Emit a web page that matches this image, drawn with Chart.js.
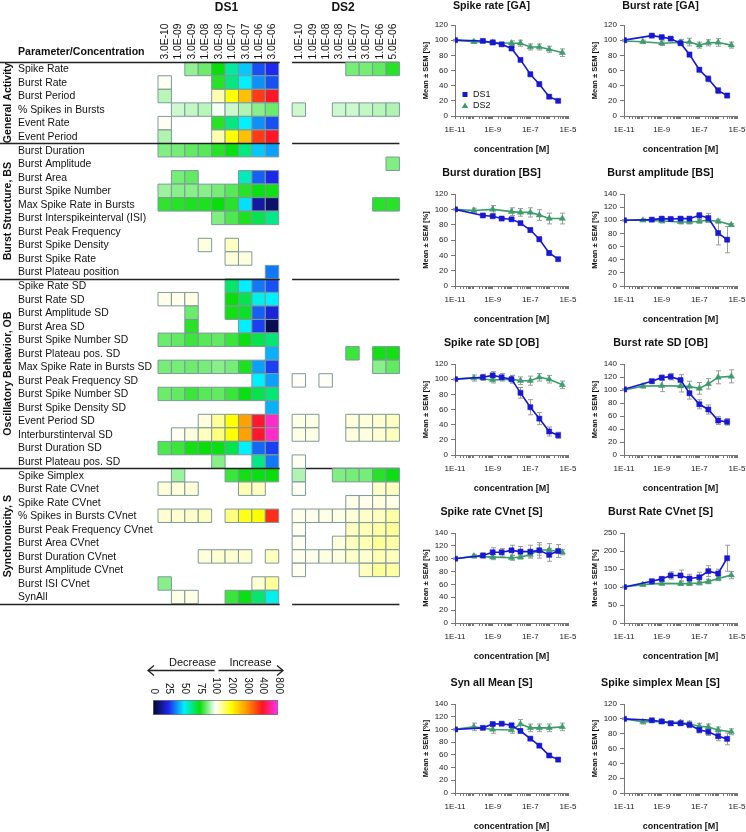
<!DOCTYPE html>
<html>
<head>
<meta charset="utf-8">
<script src="https://cdn.jsdelivr.net/npm/chart.js@4.4.1/dist/chart.umd.min.js"></script>
<style>
html, body { margin: 0; padding: 0; background: #fff; }
#fig { position: relative; width: 746px; height: 832px; overflow: hidden; background: #fff; }
#fig canvas { position: absolute; }
</style>
</head>
<body>
<div id="fig"></div>
<script>
// ---- heatmap data ----
const params = [
  "Spike Rate", "Burst Rate", "Burst Period", "% Spikes in Bursts", "Event Rate", "Event Period",
  "Burst Duration", "Burst Amplitude", "Burst Area", "Burst Spike Number", "Max Spike Rate in Bursts",
  "Burst Interspikeinterval (ISI)", "Burst Peak Frequency", "Burst Spike Density", "Burst Spike Rate",
  "Burst Plateau position",
  "Spike Rate SD", "Burst Rate SD", "Burst Amplitude SD", "Burst Area SD", "Burst Spike Number SD",
  "Burst Plateau pos. SD", "Max Spike Rate in Bursts SD", "Burst Peak Frequency SD", "Burst Spike Number SD",
  "Burst Spike Density SD", "Event Period SD", "Interburstinterval SD", "Burst Duration SD", "Burst Plateau pos. SD",
  "Spike Simplex", "Burst Rate CVnet", "Spike Rate CVnet", "% Spikes in Bursts CVnet", "Burst Peak Frequency CVnet",
  "Burst Area CVnet", "Burst Duration CVnet", "Burst Amplitude CVnet", "Burst ISI CVnet", "SynAll"
];
const sectionNames = ["General Activity", "Burst Structure, BS", "Oscillatory Behavior, OB", "Synchronicity, S"];
const sectionRows = [6, 10, 14, 10];
const ds1Conc = ["3.0E-10", "1.0E-09", "3.0E-09", "1.0E-08", "3.0E-08", "1.0E-07", "3.0E-07", "1.0E-06", "3.0E-06"];
const ds2Conc = ["1.0E-10", "1.0E-09", "1.0E-08", "3.0E-08", "1.0E-07", "3.0E-07", "1.0E-06", "5.0E-06"];
const _ = null;
// percent of control, null = not significant
const ds1Cells = [
  [_, _, 89, 85, 75, 60, 45, 30, 25],
  [105, _, _, _, 78, 63, 50, 38, 30],
  [93, _, _, _, 130, 200, 260, 370, 420],
  [_, 95, 94, 93, 99, 95, 92, 88, 85],
  [105, _, _, _, 78, 63, 50, 38, 30],
  [92, _, _, _, 130, 200, 260, 370, 420],
  [87, 86, 84, 83, 78, 74, 63, 45, 40],
  [_, _, _, _, _, _, _, _, _],
  [_, 86, 84, _, _, _, 57, 32, 24],
  [90, 88, 88, 88, 86, 83, 78, 74, 76],
  [79, 78, 77, 77, 75, 78, 48, 15, 8],
  [_, _, _, _, 87, 82, 77, 68, 62],
  [_, _, _, _, _, _, _, _, _],
  [_, _, _, 112, _, 125, _, _, _],
  [_, _, _, _, _, 115, 112, _, _],
  [_, _, _, _, _, _, _, _, 35],
  [_, _, _, _, _, 65, 50, 35, 30],
  [108, 108, 110, _, _, 75, 68, 52, 50],
  [_, _, 85, _, _, 76, 72, 32, 22],
  [_, _, 78, _, _, _, 50, 28, 5],
  [85, 84, 80, 83, 84, 80, 74, 68, 64],
  [_, _, _, _, _, _, _, _, 42],
  [86, 86, 85, 86, 88, 86, 77, 40, 28],
  [_, _, _, _, _, _, _, 50, 40],
  [85, 84, 80, 83, 84, 80, 74, 68, 64],
  [_, _, _, _, _, _, _, _, 42],
  [_, _, _, 112, 140, 200, 290, 430, 700],
  [_, 105, 112, 125, 150, 200, 290, 430, 700],
  [82, 80, 76, 75, 74, 68, 50, 33, 28],
  [_, _, _, _, 88, _, _, 62, 35],
  [_, 90, _, _, _, 80, 76, 74, 75],
  [115, 115, 115, _, _, _, 130, 125, _],
  [_, _, _, _, _, _, _, _, _],
  [118, 118, 120, 125, _, 150, 190, 200, 380],
  [_, _, _, _, _, _, _, _, _],
  [_, _, _, _, _, _, _, _, _],
  [_, _, _, 115, 118, 118, 118, _, 125],
  [_, _, _, _, _, _, _, _, _],
  [88, _, _, _, _, _, _, 118, 140],
  [_, 110, 110, _, _, 80, 74, 65, 52]
];
const ds2Cells = [
  [_, _, _, _, 86, 86, 84, 78],
  [_, _, _, _, _, _, _, _],
  [_, _, _, _, _, _, _, _],
  [95, _, _, 95, 95, 94, 93, 92],
  [_, _, _, _, _, _, _, _],
  [_, _, _, _, _, _, _, _],
  [_, _, _, _, _, _, _, _],
  [_, _, _, _, _, _, _, 87],
  [_, _, _, _, _, _, _, _],
  [_, _, _, _, _, _, _, _],
  [_, _, _, _, _, _, 78, 78],
  [_, _, _, _, _, _, _, _],
  [_, _, _, _, _, _, _, _],
  [_, _, _, _, _, _, _, _],
  [_, _, _, _, _, _, _, _],
  [_, _, _, _, _, _, _, _],
  [_, _, _, _, _, _, _, _],
  [_, _, _, _, _, _, _, _],
  [_, _, _, _, _, _, _, _],
  [_, _, _, _, _, _, _, _],
  [_, _, _, _, _, _, _, _],
  [_, _, _, _, 80, _, 76, 76],
  [_, _, _, _, _, _, 88, 84],
  [103, _, 103, _, _, _, _, _],
  [_, _, _, _, _, _, _, _],
  [_, _, _, _, _, _, _, _],
  [110, 110, _, _, 115, 115, 118, 125],
  [110, 110, _, _, 112, 112, 118, 125],
  [_, _, _, _, _, _, _, _],
  [105, _, _, _, _, _, _, _],
  [92, _, _, 87, 86, 86, 78, 74],
  [105, _, _, _, _, _, 120, 125],
  [_, _, _, _, 108, 108, 112, 110],
  [108, 108, 110, 110, 115, 120, 125, 135],
  [105, _, _, _, 125, 128, 135, 140],
  [105, _, _, 115, 125, 130, 140, 135],
  [108, 108, 110, 112, 120, 118, 130, 125],
  [105, _, _, _, _, 125, 140, 135],
  [_, _, _, _, _, _, _, _],
  [_, _, _, _, _, _, _, _]
];
const colorStops = [0, 25, 50, 75, 100, 200, 300, 400, 800];
const stopColors = [[5, 5, 40], [30, 40, 240], [0, 240, 255], [10, 222, 10], [255, 255, 255],
  [255, 255, 0], [255, 150, 0], [255, 20, 30], [255, 50, 255]];

// ---- concentration-response data ----
const concDS1 = [1e-11, 3e-10, 1e-9, 3e-9, 1e-8, 3e-8, 1e-7, 3e-7, 1e-6, 3e-6];
const concDS2 = [1e-11, 1e-10, 1e-9, 1e-8, 3e-8, 1e-7, 3e-7, 1e-6, 5e-6];

const spikeRateDS1 = [100, 99, 97, 94.5, 89, 74, 55, 42, 25.5, 20];
const spikeRateDS1Sem = [1, 1, 1, 1, 1.5, 2, 3, 3, 2.5, 2];
const spikeRateDS2 = [100, 98, 97, 96, 96, 91, 91, 88, 83.5];
const spikeRateDS2Sem = [1, 2, 3, 3, 4, 4, 4, 4, 5];

const burstRateDS1 = [100, 106, 104, 102, 96, 81, 61, 49, 33.5, 27];
const burstRateDS1Sem = [1, 1, 1, 1.5, 2, 3, 3, 4, 4, 3];
const burstRateDS2 = [99, 98, 96, 97, 97.5, 93.5, 96.5, 97, 93.5];
const burstRateDS2Sem = [1, 2, 3, 4, 5, 4, 4, 5, 4];

const burstDurDS1 = [100, 92, 91, 88, 87, 82, 73, 61, 43, 35];
const burstDurDS1Sem = [1, 1.5, 1.5, 1.5, 1.5, 2, 3, 3, 3, 2];
const burstDurDS2 = [100, 98.5, 100, 97, 96, 96, 92.5, 88, 88];
const burstDurDS2Sem = [1, 3, 5, 5, 5, 6, 7, 7, 7];

const burstAmpDS1 = [100, 101, 102.5, 102, 102.5, 102.5, 107.5, 103.5, 80.5, 70.5];
const burstAmpDS1Sem = [1, 1, 2, 2, 2, 2, 4, 7, 18, 20];
const burstAmpDS2 = [100, 100, 99, 97.5, 97.5, 98.5, 100, 98.5, 93];
const burstAmpDS2Sem = [1, 2, 3, 3, 3, 3, 3, 3, 2];

const spikeRateSdDS1 = [100, 102.5, 105, 102.5, 100, 82, 63, 48, 31, 26];
const spikeRateSdDS1Sem = [1, 4, 5, 5, 5, 7, 10, 8, 6, 4];
const spikeRateSdDS2 = [100, 101.5, 99, 100, 98, 98, 102.5, 100, 92.5];
const spikeRateSdDS2Sem = [1, 4, 4, 5, 5, 6, 5, 5, 5];

const burstRateSdDS1 = [101, 113.5, 119, 120.5, 115.5, 95, 78, 70, 53, 51];
const burstRateSdDS1Sem = [1, 3, 4, 5, 8, 9, 7, 7, 6, 5];
const burstRateSdDS2 = [100, 106, 106.5, 106, 105.5, 102.5, 109.5, 119.5, 121];
const burstRateSdDS2Sem = [1, 3, 9, 9, 8, 9, 8, 10, 10];

const spikeCvDS1 = [100, 105, 110, 110, 113, 111, 111, 113, 106, 112];
const spikeCvDS1Sem = [1, 4, 7, 6, 8, 8, 10, 12, 10, 10];
const spikeCvDS2 = [100, 104, 102.5, 101.5, 102.5, 106.5, 113.5, 113.5, 110];
const spikeCvDS2Sem = [1, 3, 4, 4, 3, 4, 8, 10, 4];

const burstCvDS1 = [100, 116, 122.5, 132, 132, 123.5, 127, 144, 137.5, 180];
const burstCvDS1Sem = [2, 4, 6, 10, 15, 12, 14, 15, 12, 36];
const burstCvDS2 = [100, 106.5, 110, 109.5, 109.5, 111, 115, 123.5, 133];
const burstCvDS2Sem = [2, 4, 5, 5, 5, 5, 6, 6, 10];

const synAllDS1 = [100, 102.5, 108.5, 109, 106.5, 97.5, 85.5, 74.5, 59, 52.5];
const synAllDS1Sem = [1, 2, 2, 2, 2, 2, 2, 2, 2, 2];
const synAllDS2 = [100, 104, 100, 99, 108.5, 102.5, 102.5, 102.5, 104];
const synAllDS2Sem = [1, 6, 6, 5, 7, 6, 6, 6, 6];

const simplexDS1 = [100, 98, 96.5, 94, 94, 92, 85, 82.5, 76.5, 73];
const simplexDS1Sem = [1, 1, 2, 3, 3, 4, 4, 5, 6, 8];
const simplexDS2 = [100, 96, 96, 95, 93, 90, 89, 85, 82.5];
const simplexDS2Sem = [1, 3, 2, 3, 4, 4, 4, 4, 4];

const panels = [
  { title: "Spike rate [GA]", yMax: 120, step: 20, a: spikeRateDS1, ae: spikeRateDS1Sem, b: spikeRateDS2, be: spikeRateDS2Sem },
  { title: "Burst rate [GA]", yMax: 120, step: 20, a: burstRateDS1, ae: burstRateDS1Sem, b: burstRateDS2, be: burstRateDS2Sem },
  { title: "Burst duration [BS]", yMax: 120, step: 20, a: burstDurDS1, ae: burstDurDS1Sem, b: burstDurDS2, be: burstDurDS2Sem },
  { title: "Burst amplitude [BS]", yMax: 140, step: 20, a: burstAmpDS1, ae: burstAmpDS1Sem, b: burstAmpDS2, be: burstAmpDS2Sem },
  { title: "Spike rate SD [OB]", yMax: 120, step: 20, a: spikeRateSdDS1, ae: spikeRateSdDS1Sem, b: spikeRateSdDS2, be: spikeRateSdDS2Sem },
  { title: "Burst rate SD [OB]", yMax: 140, step: 20, a: burstRateSdDS1, ae: burstRateSdDS1Sem, b: burstRateSdDS2, be: burstRateSdDS2Sem },
  { title: "Spike rate CVnet [S]", yMax: 140, step: 20, a: spikeCvDS1, ae: spikeCvDS1Sem, b: spikeCvDS2, be: spikeCvDS2Sem },
  { title: "Burst Rate CVnet [S]", yMax: 250, step: 50, a: burstCvDS1, ae: burstCvDS1Sem, b: burstCvDS2, be: burstCvDS2Sem },
  { title: "Syn all Mean [S]", yMax: 140, step: 20, a: synAllDS1, ae: synAllDS1Sem, b: synAllDS2, be: synAllDS2Sem },
  { title: "Spike simplex Mean [S]", yMax: 120, step: 20, a: simplexDS1, ae: simplexDS1Sem, b: simplexDS2, be: simplexDS2Sem }
];

// ---- setup ----
const FONT = "'Liberation Sans', Arial, Helvetica, sans-serif";
Chart.defaults.font.family = FONT;
Chart.defaults.color = "#111";
const BLUE = "#1818d2";
const GREEN = "#3c9c6c";
const fig = document.getElementById("fig");

function addCanvas(left, top, w, h) {
  const c = document.createElement("canvas");
  c.width = w; c.height = h;
  c.style.left = left + "px"; c.style.top = top + "px";
  c.style.width = w + "px"; c.style.height = h + "px";
  fig.appendChild(c);
  return c;
}

function valueColor(v) {
  let i = 0;
  while (i < colorStops.length - 2 && v > colorStops[i + 1]) i++;
  const t = Math.max(0, Math.min(1, (v - colorStops[i]) / (colorStops[i + 1] - colorStops[i])));
  const a = stopColors[i], b = stopColors[i + 1];
  const m = (k) => Math.round(a[k] + (b[k] - a[k]) * t);
  return "rgb(" + m(0) + "," + m(1) + "," + m(2) + ")";
}

// ---- heatmap ----
const cellData = [];
ds1Cells.forEach((row, r) => row.forEach((v, c) => { if (v !== null) cellData.push({ x: c, y: r, v: v }); }));
ds2Cells.forEach((row, r) => row.forEach((v, c) => { if (v !== null) cellData.push({ x: c + 10, y: r, v: v }); }));

function cellRadius(c) {
  const a = c.chart.chartArea;
  return (a ? a.width / 18 : 13.54) / Math.SQRT2;
}

function sectionLines(chart, from, to) {
  const { ctx, scales: { x, y } } = chart;
  ctx.save();
  ctx.strokeStyle = "#222";
  ctx.lineWidth = 1.4;
  let r = 0;
  const bounds = [0];
  sectionRows.forEach(n => { r += n; bounds.push(r); });
  bounds.forEach(b => {
    const py = Math.round(y.getPixelForValue(b - 0.5)) + 0.5;
    ctx.beginPath();
    ctx.moveTo(from, py);
    ctx.lineTo(to, py);
    ctx.stroke();
  });
  ctx.restore();
}

const heatLabels = {
  id: "heatLabels",
  beforeDatasetsDraw(chart) {
    const x = chart.scales.x;
    sectionLines(chart, x.getPixelForValue(9.5), x.getPixelForValue(17.5));
  },
  afterDatasetsDraw(chart) {
    const { ctx, scales: { x, y } } = chart;
    sectionLines(chart, 0, x.getPixelForValue(8.5) + 1);
    ctx.save();
    ctx.fillStyle = "#111";
    ctx.textBaseline = "middle";
    ctx.font = "10.4px " + FONT;
    params.forEach((p, i) => ctx.fillText(p, 18, y.getPixelForValue(i) + 0.5));
    ctx.font = "bold 10.6px " + FONT;
    ctx.fillText("Parameter/Concentration", 18, 52.5);
    // section titles
    let start = 0;
    sectionNames.forEach((s, i) => {
      const cy = (y.getPixelForValue(start - 0.5) + y.getPixelForValue(start + sectionRows[i] - 0.5)) / 2;
      ctx.save();
      ctx.translate(8, cy);
      ctx.rotate(-Math.PI / 2);
      ctx.textAlign = "center";
      ctx.fillText(s, 0, 0);
      ctx.restore();
      start += sectionRows[i];
    });
    // column labels
    ctx.font = "10.3px " + FONT;
    const colLabel = (txt, col) => {
      ctx.save();
      ctx.translate(x.getPixelForValue(col) + 0.5, 59.5);
      ctx.rotate(-Math.PI / 2);
      ctx.textAlign = "left";
      ctx.fillText(txt, 0, 0);
      ctx.restore();
    };
    ds1Conc.forEach((t, i) => colLabel(t, i));
    ds2Conc.forEach((t, i) => colLabel(t, i + 10));
    ctx.font = "bold 12px " + FONT;
    ctx.textAlign = "center";
    ctx.fillText("DS1", x.getPixelForValue(4.6), 8);
    ctx.fillText("DS2", x.getPixelForValue(13.3), 8);
    ctx.restore();
  }
};

const HW = 410, HH = 615;
new Chart(addCanvas(0, 0, HW, HH), {
  type: "scatter",
  data: {
    datasets: [{
      data: cellData,
      pointStyle: "rect",
      clip: false,
      pointRadius: cellRadius,
      pointHoverRadius: cellRadius,
      backgroundColor: (c) => (c.raw ? valueColor(c.raw.v) : "#fff"),
      borderColor: "#7d9a9a",
      borderWidth: 1
    }]
  },
  options: {
    responsive: false,
    animation: false,
    events: [],
    layout: { padding: { left: 158, top: 62.2, right: HW - 401.7, bottom: HH - 603.8 } },
    plugins: { legend: { display: false }, tooltip: { enabled: false } },
    scales: {
      x: { type: "linear", display: false, min: -0.5, max: 17.5 },
      y: { type: "linear", display: false, min: -0.5, max: 39.5, reverse: true }
    }
  },
  plugins: [heatLabels]
});

// ---- color bar ----
function rgb(c) { return "rgb(" + c[0] + "," + c[1] + "," + c[2] + ")"; }
const colorbarLabels = {
  id: "colorbarLabels",
  afterDatasetsDraw(chart) {
    const { ctx, chartArea: a, scales: { x } } = chart;
    ctx.save();
    ctx.fillStyle = "#111";
    ctx.font = "10px " + FONT;
    ctx.textBaseline = "middle";
    colorStops.forEach((s, i) => {
      ctx.save();
      ctx.translate(x.getPixelForValue(i) + 0.5, a.top - 6);
      ctx.rotate(Math.PI / 2);
      ctx.textAlign = "right";
      ctx.fillText(String(s), 0, 0);
      ctx.restore();
    });
    // arrows
    const mid = x.getPixelForValue(4);
    const ay = 20.5;
    ctx.strokeStyle = "#222";
    ctx.lineWidth = 1.3;
    ctx.beginPath();
    ctx.moveTo(mid - 1, ay); ctx.lineTo(a.left - 5, ay);
    ctx.moveTo(a.left + 1, ay - 5); ctx.lineTo(a.left - 5, ay); ctx.lineTo(a.left + 1, ay + 5);
    ctx.moveTo(mid + 3, ay); ctx.lineTo(a.right + 5, ay);
    ctx.moveTo(a.right - 1, ay - 5); ctx.lineTo(a.right + 5, ay); ctx.lineTo(a.right - 1, ay + 5);
    ctx.stroke();
    ctx.font = "11px " + FONT;
    ctx.textAlign = "center";
    ctx.fillText("Decrease", mid - 23, 13);
    ctx.fillText("Increase", mid + 35, 13);
    ctx.restore();
  }
};
new Chart(addCanvas(140, 650, 160, 75), {
  type: "bar",
  data: {
    labels: [""],
    datasets: [{
      data: [[0, colorStops.length - 1]],
      backgroundColor: (c) => {
        const { ctx, chartArea } = c.chart;
        if (!chartArea) return "#fff";
        const g = ctx.createLinearGradient(chartArea.left, 0, chartArea.right, 0);
        stopColors.forEach((col, i) => g.addColorStop(i / (stopColors.length - 1), rgb(col)));
        return g;
      },
      borderColor: "#777",
      borderWidth: 1,
      borderSkipped: false,
      barPercentage: 1,
      categoryPercentage: 1
    }]
  },
  options: {
    indexAxis: "y",
    responsive: false,
    animation: false,
    events: [],
    layout: { padding: { left: 13, right: 22, top: 50, bottom: 10 } },
    plugins: { legend: { display: false }, tooltip: { enabled: false } },
    scales: {
      x: { type: "linear", min: 0, max: colorStops.length - 1, display: false },
      y: { display: false }
    }
  },
  plugins: [colorbarLabels]
});

// ---- concentration-response panels ----
const errorBars = {
  id: "errorBars",
  beforeDatasetsDraw(chart) {
    const { ctx, scales: { x, y } } = chart;
    ctx.save();
    ctx.strokeStyle = "#9c9c9c";
    ctx.lineWidth = 1;
    chart.data.datasets.forEach(ds => {
      ds.data.forEach((p, i) => {
        const e = ds.sem[i];
        const px = Math.round(x.getPixelForValue(p.x)) + 0.5;
        const y1 = y.getPixelForValue(p.y - e), y2 = y.getPixelForValue(p.y + e);
        ctx.beginPath();
        ctx.moveTo(px, y1); ctx.lineTo(px, y2);
        ctx.moveTo(px - 2.5, y1); ctx.lineTo(px + 2.5, y1);
        ctx.moveTo(px - 2.5, y2); ctx.lineTo(px + 2.5, y2);
        ctx.stroke();
      });
    });
    ctx.restore();
  }
};

const insideLegend = {
  id: "insideLegend",
  afterDatasetsDraw(chart) {
    const { ctx, chartArea: a } = chart;
    ctx.save();
    ctx.font = "9px " + FONT;
    ctx.textBaseline = "middle";
    const lx = a.left + 10;
    const y1 = a.top + 69.5, y2 = a.top + 81;
    ctx.fillStyle = BLUE;
    ctx.fillRect(lx - 2.5, y1 - 2.5, 5, 5);
    ctx.fillStyle = GREEN;
    ctx.beginPath();
    ctx.moveTo(lx, y2 - 3.5); ctx.lineTo(lx + 3.2, y2 + 2); ctx.lineTo(lx - 3.2, y2 + 2);
    ctx.closePath(); ctx.fill();
    ctx.fillStyle = "#111";
    ctx.fillText("DS1", lx + 8, y1);
    ctx.fillText("DS2", lx + 8, y2);
    ctx.restore();
  }
};

function logLabel(v) {
  const l = Math.log10(v), e = Math.round(l);
  return (Math.abs(l - e) < 1e-6 && e % 2 !== 0) ? "1E" + e : "";
}
function tickCol(c) {
  const v = c.tick && c.tick.value;
  if (!v) return "#777";
  const m = v / Math.pow(10, Math.floor(Math.log10(v) + 1e-9));
  return Math.abs(m - 1.5) < 0.01 ? "rgba(0,0,0,0)" : "#777";
}

const colLeft = [455, 624];
const rowTop = [25, 194, 364, 533, 704];
const rowH = [91, 92, 91, 90, 89];
const rowTitleGap = [25, 27, 27, 27, 27];
const AXW = 40, PW = 113, RP = 14, XH = 39;

panels.forEach((p, idx) => {
  const col = idx % 2, row = Math.floor(idx / 2);
  const TT = rowTitleGap[row];
  const left = colLeft[col] - AXW, top = rowTop[row] - TT;
  const w = AXW + PW + RP, h = TT + rowH[row] + XH + 2;
  new Chart(addCanvas(left, top, w, h), {
    type: "line",
    data: {
      datasets: [
        {
          label: "DS1",
          data: concDS1.map((c, i) => ({ x: c, y: p.a[i] })),
          sem: p.ae,
          borderColor: BLUE, backgroundColor: BLUE,
          pointStyle: "rect", pointRadius: 3.6, pointBorderWidth: 0.5,
          borderWidth: 1.6
        },
        {
          label: "DS2",
          data: concDS2.map((c, i) => ({ x: c, y: p.b[i] })),
          sem: p.be,
          borderColor: GREEN, backgroundColor: GREEN,
          pointStyle: "triangle", pointRadius: 3.6, pointBorderWidth: 0.5,
          borderWidth: 1.6
        }
      ]
    },
    options: {
      responsive: false,
      animation: false,
      events: [],
      layout: { padding: { left: 0, right: RP, top: 0, bottom: 2 } },
      plugins: {
        legend: { display: false },
        tooltip: { enabled: false },
        title: {
          display: true, text: p.title, color: "#111",
          font: { size: 10.7, weight: "bold" },
          padding: { top: 0, bottom: TT - 12.84 }
        }
      },
      scales: {
        x: {
          type: "logarithmic", min: 1e-11, max: 1e-5,
          border: { color: "#777", width: 1 },
          grid: { drawOnChartArea: false, drawTicks: true, tickLength: 3, tickColor: tickCol },
          ticks: { autoSkip: false, maxRotation: 0, minRotation: 0, padding: 6, color: "#222", font: { size: 8 }, callback: logLabel },
          title: { display: true, text: "concentration [M]", color: "#111", font: { size: 9, weight: "bold" }, padding: { top: 0, bottom: 0 } },
          afterFit(s) { s.height = XH; s.paddingLeft = 0; s.paddingRight = 0; }
        },
        y: {
          type: "linear", min: 0, max: p.yMax,
          border: { color: "#777", width: 1 },
          grid: { drawOnChartArea: false, drawTicks: true, tickLength: 4, color: "#777" },
          ticks: { stepSize: p.step, padding: 3, color: "#222", font: { size: 8 } },
          title: { display: true, text: "Mean ± SEM [%]", color: "#111", font: { size: 7.5, weight: "bold" }, padding: { top: 6.5, bottom: 0 } },
          afterFit(s) { s.width = AXW; s.paddingTop = 0; s.paddingBottom = 0; }
        }
      }
    },
    plugins: idx === 0 ? [errorBars, insideLegend] : [errorBars]
  });
});
</script>
</body>
</html>
